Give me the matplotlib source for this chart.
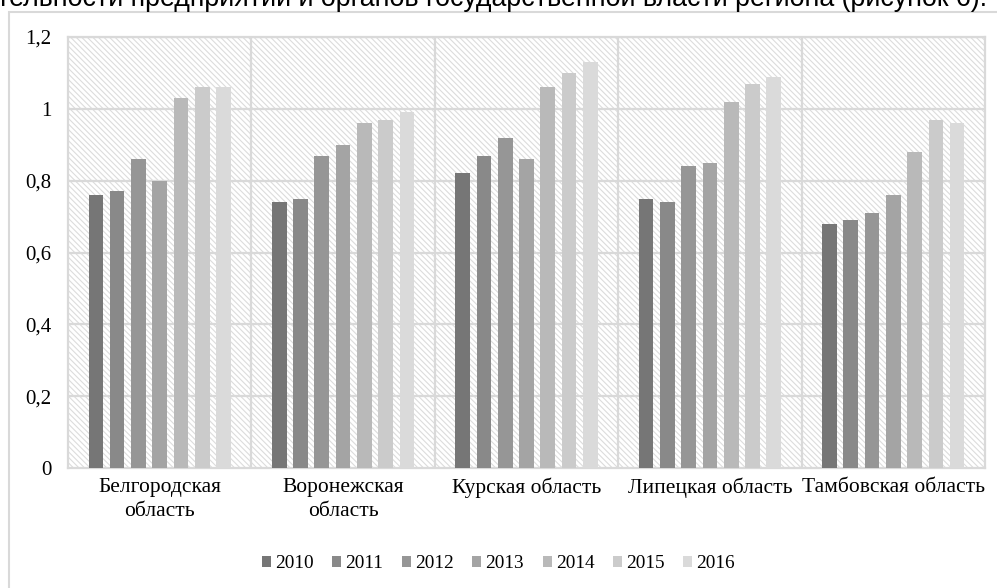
import numpy as np
import matplotlib.pyplot as plt
from matplotlib.patches import Rectangle

regions = ["Белгородская\nобласть", "Воронежская\nобласть", "Курская область",
           "Липецкая область", "Тамбовская область"]
years = ["2010", "2011", "2012", "2013", "2014", "2015", "2016"]

# values per year, one entry per region
v2010 = [0.76, 0.74, 0.82, 0.75, 0.68]
v2011 = [0.77, 0.75, 0.87, 0.74, 0.69]
v2012 = [0.86, 0.87, 0.92, 0.84, 0.71]
v2013 = [0.80, 0.90, 0.86, 0.85, 0.76]
v2014 = [1.03, 0.96, 1.06, 1.02, 0.88]
v2015 = [1.06, 0.97, 1.10, 1.07, 0.97]
v2016 = [1.06, 0.99, 1.13, 1.09, 0.96]
series = [v2010, v2011, v2012, v2013, v2014, v2015, v2016]

colors = ["#767676", "#898989", "#969696", "#a4a4a4", "#b9b9b9", "#cbcbcb", "#dadada"]
grid_c = "#d9d9d9"
serif = "Liberation Serif"

plt.rcParams["hatch.linewidth"] = 0.8

fig = plt.figure(figsize=(9.97, 5.88), dpi=100)
ax = fig.add_axes([68 / 997, 1 - 468 / 588, (985 - 68) / 997, (468 - 37) / 588])

# hatched background of the plot area
ax.add_patch(Rectangle((0, 0), 1, 1, transform=ax.transAxes, facecolor="white",
                       edgecolor="#dcdcdc", hatch="\\" * 6, lw=0, zorder=0))

x = np.arange(len(regions))
step = 0.116
width = 0.08
for j, vals in enumerate(series):
    ax.bar(x + (j - 3) * step, vals, width, color=colors[j], label=years[j], zorder=3)

ax.set_xlim(-0.5, len(regions) - 0.5)
ax.set_ylim(0, 1.2)
yt = [0, 0.2, 0.4, 0.6, 0.8, 1.0, 1.2]
ax.set_yticks(yt)
ax.set_yticklabels(["0", "0,2", "0,4", "0,6", "0,8", "1", "1,2"], family=serif, fontsize=15)
ax.set_xticks(x)
ax.set_xticklabels(regions, family=serif, fontsize=15.5, linespacing=1.35)
ax.tick_params(axis="y", length=0, pad=12)
ax.tick_params(axis="x", length=0, pad=7)

for yv in yt[1:]:
    ax.axhline(yv, color=grid_c, lw=1.6, zorder=1)
for xv in x[:-1] + 0.5:
    ax.axvline(xv, color=grid_c, lw=1.6, zorder=1)
for s in ax.spines.values():
    s.set_color(grid_c)
    s.set_linewidth(1.6)

fig.legend(loc="center", bbox_to_anchor=(0.5, 1 - 564 / 588), ncol=7, frameon=False,
           prop={"family": serif, "size": 13.9}, handlelength=0.47, handleheight=0.47,
           handletextpad=0.22, columnspacing=0.95)

# outer chart frame
fig.patches.append(Rectangle((9 / 997, -0.01), 1.0, 1 - 12 / 588 + 0.01,
                             transform=fig.transFigure, fill=False,
                             edgecolor=grid_c, lw=1.5))

# cut-off line of text above the chart
fig.text(987 / 997, 1 - 6.5 / 588,
         "деятельности предприятий и органов государственной власти региона (рисунок 6).",
         ha="right", va="baseline", fontsize=19.3, family="Liberation Sans")

fig.savefig("out.png", dpi=100)
